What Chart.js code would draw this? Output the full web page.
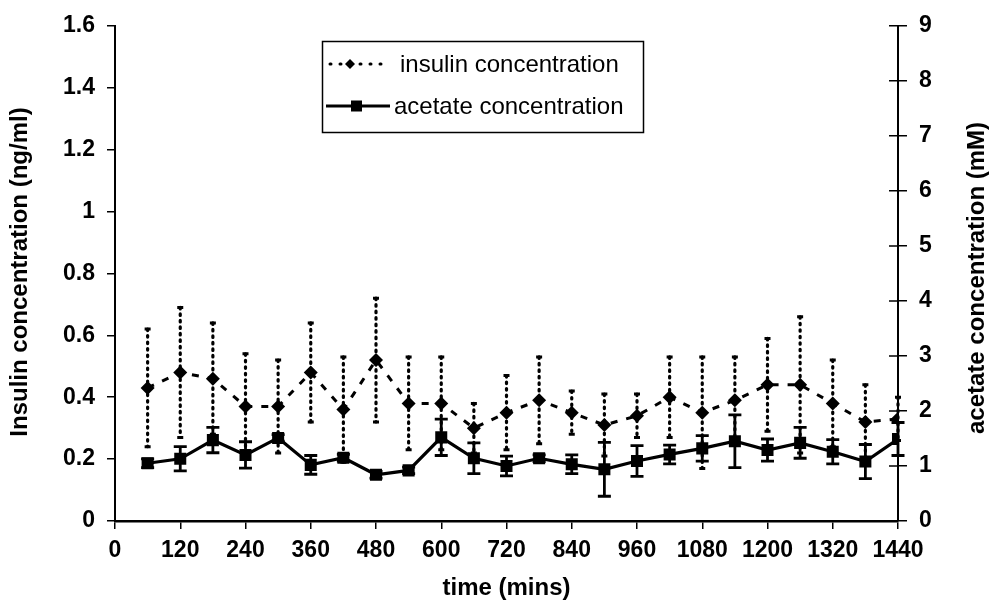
<!DOCTYPE html>
<html>
<head>
<meta charset="utf-8">
<script src="https://cdn.jsdelivr.net/npm/chart.js@4.4.1/dist/chart.umd.min.js"></script>
<style>
  html, body { margin: 0; padding: 0; background: #fff; }
  #wrap { width: 992px; height: 605px; position: relative; }
</style>
</head>
<body>
<div id="wrap"><canvas id="c" width="992" height="605"></canvas></div>
<script>
// ---- data ----
const timeMins = [60, 120, 180, 240, 300, 360, 420, 480, 540, 600, 660, 720,
                  780, 840, 900, 960, 1020, 1080, 1140, 1200, 1260, 1320, 1380, 1440];
const insulinMean = [0.43, 0.48, 0.46, 0.37, 0.37, 0.48, 0.36, 0.52, 0.38, 0.38, 0.30, 0.35,
                     0.39, 0.35, 0.31, 0.34, 0.40, 0.35, 0.39, 0.44, 0.44, 0.38, 0.32, 0.33];
const insulinErr  = [0.19, 0.21, 0.18, 0.17, 0.15, 0.16, 0.17, 0.20, 0.15, 0.15, 0.08, 0.12,
                     0.14, 0.07, 0.10, 0.07, 0.13, 0.18, 0.14, 0.15, 0.22, 0.14, 0.12, 0.07];
const acetateMean = [1.05, 1.13, 1.47, 1.20, 1.51, 1.02, 1.15, 0.84, 0.92, 1.52, 1.14, 1.00,
                     1.14, 1.03, 0.94, 1.09, 1.21, 1.32, 1.45, 1.29, 1.42, 1.26, 1.08, 1.49];
const acetateErr  = [0.08, 0.22, 0.23, 0.24, 0.06, 0.17, 0.06, 0.06, 0.06, 0.33, 0.28, 0.18,
                     0.06, 0.17, 0.49, 0.28, 0.17, 0.23, 0.48, 0.20, 0.28, 0.22, 0.31, 0.30];
const xTickValues = [0, 120, 240, 360, 480, 600, 720, 840, 960, 1080, 1200, 1320, 1440];
const leftTickValues = [0, 0.2, 0.4, 0.6, 0.8, 1, 1.2, 1.4, 1.6];
const rightTickValues = [0, 1, 2, 3, 4, 5, 6, 7, 8, 9];
const seriesNames = ['insulin concentration', 'acetate concentration'];
const axisTitles = { x: 'time (mins)', y: 'Insulin concentration (ng/ml)', y2: 'acetate concentration (mM)' };

const FONT = '"Liberation Sans", Arial, Helvetica, sans-serif';
const errorSets = [
  { dsIndex: 0, err: insulinErr, dotted: true },
  { dsIndex: 1, err: acetateErr, dotted: false }
];

const decor = {
  id: 'decor',
  beforeDatasetsDraw(chart) {
    const ctx = chart.ctx;
    ctx.save();
    ctx.strokeStyle = '#000';
    errorSets.forEach(set => {
      const ds = chart.data.datasets[set.dsIndex];
      const ys = chart.scales[ds.yAxisID];
      const xs = chart.scales.x;
      ds.data.forEach((p, i) => {
        const px = xs.getPixelForValue(p.x);
        const top = ys.getPixelForValue(p.y + set.err[i]);
        const bot = ys.getPixelForValue(p.y - set.err[i]);
        ctx.beginPath();
        if (set.dotted) {
          ctx.lineWidth = 3.2;
          ctx.lineCap = 'round';
          ctx.setLineDash([1.5, 5]);
        } else {
          ctx.lineWidth = 2.8;
          ctx.lineCap = 'butt';
          ctx.setLineDash([]);
        }
        ctx.moveTo(px, top); ctx.lineTo(px, bot);
        ctx.stroke();
        ctx.setLineDash([]);
        ctx.lineCap = 'butt';
        const cw = set.dotted ? 3 : 6.5;
        ctx.lineWidth = set.dotted ? 3 : 2.8;
        ctx.beginPath();
        ctx.moveTo(px - cw, top); ctx.lineTo(px + cw, top);
        ctx.moveTo(px - cw, bot); ctx.lineTo(px + cw, bot);
        ctx.stroke();
      });
    });
    ctx.restore();
  },
  afterDraw(chart) {
    const ctx = chart.ctx;
    const a = chart.chartArea;
    const y2 = chart.scales.y2;
    ctx.save();
    ctx.strokeStyle = '#000';
    ctx.fillStyle = '#000';
    // inner halves of the crossing ticks on the right axis
    ctx.lineWidth = 1.5;
    ctx.beginPath();
    rightTickValues.forEach(v => {
      const py = y2.getPixelForValue(v);
      ctx.moveTo(a.right - 9, py); ctx.lineTo(a.right, py);
    });
    ctx.stroke();

    // axis titles
    ctx.font = 'bold 24px ' + FONT;
    ctx.textAlign = 'center';
    ctx.textBaseline = 'middle';
    ctx.fillText(axisTitles.x, (a.left + a.right) / 2, 588);
    ctx.save();
    ctx.translate(20, 272);
    ctx.rotate(-Math.PI / 2);
    ctx.fillText(axisTitles.y, 0, 0);
    ctx.restore();
    ctx.save();
    ctx.translate(977, 278);
    ctx.rotate(-Math.PI / 2);
    ctx.fillText(axisTitles.y2, 0, 0);
    ctx.restore();

    // legend box
    const L = { x: 322, y: 41, w: 321, h: 91 };
    ctx.lineWidth = 1.5;
    ctx.strokeRect(L.x + 0.5, L.y + 0.5, L.w, L.h);
    const r1 = L.y + 23, r2 = L.y + 65;
    // insulin symbol
    ctx.lineWidth = 3;
    ctx.lineCap = 'round';
    ctx.setLineDash([1, 9]);
    ctx.beginPath();
    ctx.moveTo(L.x + 8, r1); ctx.lineTo(L.x + 60, r1);
    ctx.stroke();
    ctx.setLineDash([]);
    ctx.lineCap = 'butt';
    ctx.beginPath();
    const dx = L.x + 28;
    ctx.moveTo(dx, r1 - 5); ctx.lineTo(dx + 5, r1); ctx.lineTo(dx, r1 + 5); ctx.lineTo(dx - 5, r1);
    ctx.closePath(); ctx.fill();
    // acetate symbol
    ctx.lineWidth = 3;
    ctx.beginPath();
    ctx.moveTo(L.x + 4, r2); ctx.lineTo(L.x + 68, r2);
    ctx.stroke();
    ctx.fillRect(L.x + 29, r2 - 5.5, 11, 11);
    // legend text
    ctx.font = '24px ' + FONT;
    ctx.textAlign = 'left';
    ctx.textBaseline = 'middle';
    ctx.fillText(seriesNames[0], L.x + 78, r1 + 1);
    ctx.fillText(seriesNames[1], L.x + 72, r2 + 1);
    ctx.restore();
  }
};

const tickFont = { family: FONT, size: 23, weight: 'bold' };

new Chart(document.getElementById('c'), {
  type: 'line',
  data: {
    datasets: [
      {
        label: seriesNames[0],
        data: timeMins.map((t, i) => ({ x: t, y: insulinMean[i] })),
        yAxisID: 'y',
        borderColor: '#000',
        backgroundColor: '#000',
        borderWidth: 3,
        borderDash: [7, 9],
        pointStyle: 'rectRot',
        pointRadius: 7,
        pointBorderWidth: 0,
        tension: 0
      },
      {
        label: seriesNames[1],
        data: timeMins.map((t, i) => ({ x: t, y: acetateMean[i] })),
        yAxisID: 'y2',
        borderColor: '#000',
        backgroundColor: '#000',
        borderWidth: 3.2,
        pointStyle: 'rect',
        pointRadius: 8.5,
        pointBorderWidth: 0,
        tension: 0
      }
    ]
  },
  options: {
    responsive: false,
    animation: false,
    devicePixelRatio: 1,
    layout: { padding: { top: 25, left: 0, right: 0, bottom: 0 } },
    plugins: { legend: { display: false }, tooltip: { enabled: false } },
    scales: {
      x: {
        type: 'linear', min: 0, max: 1440,
        afterBuildTicks: s => { s.ticks = xTickValues.map(v => ({ value: v })); },
        afterFit: s => { s.height = 84; },
        ticks: { font: tickFont, color: '#000', padding: 8, maxRotation: 0, autoSkip: false,
                 callback: v => String(v) },
        grid: { drawOnChartArea: false, drawTicks: true, tickLength: 8, color: '#000', lineWidth: 1.5 },
        border: { display: true, color: '#000', width: 2.5 }
      },
      y: {
        type: 'linear', position: 'left', min: 0, max: 1.6,
        afterBuildTicks: s => { s.ticks = leftTickValues.map(v => ({ value: v })); },
        afterFit: s => { s.width = 115; },
        ticks: { font: tickFont, color: '#000', padding: 12, callback: v => String(v) },
        grid: { drawOnChartArea: false, drawTicks: true, tickLength: 8, color: '#000', lineWidth: 1.5 },
        border: { display: true, color: '#000', width: 2 }
      },
      y2: {
        type: 'linear', position: 'right', min: 0, max: 9,
        afterBuildTicks: s => { s.ticks = rightTickValues.map(v => ({ value: v })); },
        afterFit: s => { s.width = 94; },
        ticks: { font: tickFont, color: '#000', padding: 12, callback: v => String(v) },
        grid: { drawOnChartArea: false, drawTicks: true, tickLength: 9, color: '#000', lineWidth: 1.5 },
        border: { display: true, color: '#000', width: 2 }
      }
    }
  },
  plugins: [decor]
});
</script>
</body>
</html>
